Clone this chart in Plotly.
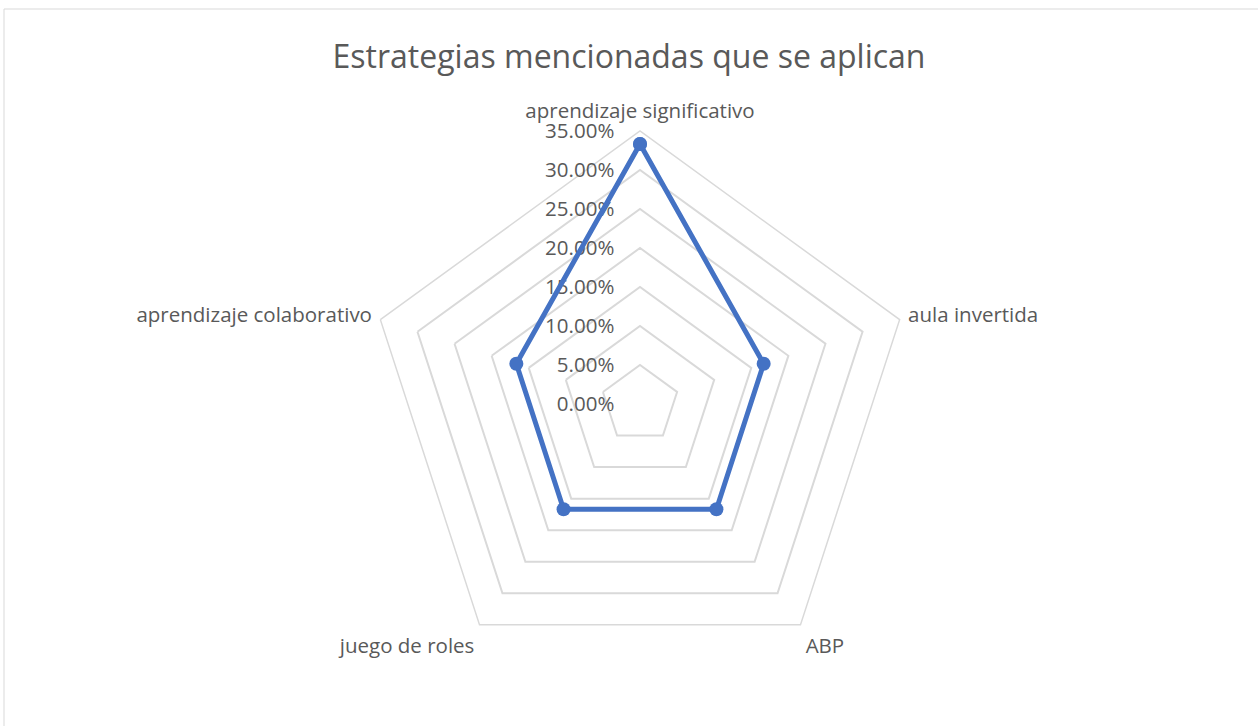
import plotly.graph_objects as go

categories = ["aprendizaje significativo", "aula invertida", "ABP", "juego de roles", "aprendizaje colaborativo"]
values = [0.3333, 0.1667, 0.1667, 0.1667, 0.1667]
radial_ticks = [0, 0.05, 0.10, 0.15, 0.20, 0.25, 0.30, 0.35]

W, H = 1258, 726
cx, cy, R = 640, 404, 273

fig = go.Figure()
fig.add_trace(go.Scatterpolar(
    r=values + values[:1],
    theta=categories + categories[:1],
    mode="lines+markers",
    line=dict(color="#4472C4", width=5),
    marker=dict(color="#4472C4", size=14),
    showlegend=False,
    hoverinfo="skip",
))

fig.update_layout(
    width=W, height=H,
    margin=dict(l=0, r=0, t=0, b=0),
    paper_bgcolor="white",
    plot_bgcolor="white",
    font=dict(family="Open Sans", color="#595959", size=20),
    title=dict(text="Estrategias mencionadas que se aplican", x=0.5, xanchor="center",
               y=1 - 57 / H, yanchor="middle", font=dict(size=32, color="#595959")),
    polar=dict(
        domain=dict(x=[(cx - R) / W, (cx + R) / W], y=[(H - cy - R) / H, (H - cy + R) / H]),
        bgcolor="white",
        gridshape="linear",
        angularaxis=dict(direction="clockwise", rotation=90, showgrid=False,
                         showline=True, linecolor="#d9d9d9", linewidth=1.5,
                         ticks="outside", ticklen=4, tickcolor="rgba(0,0,0,0)",
                         layer="below traces",
                         tickfont=dict(size=20.5, color="#595959")),
        radialaxis=dict(range=[0, 0.35], tickvals=radial_ticks, tickformat=".2%",
                        angle=90, tickangle=90, side="counterclockwise",
                        showline=False, ticks="outside", ticklen=18, tickcolor="rgba(0,0,0,0)",
                        gridcolor="#d9d9d9", gridwidth=1.5, layer="below traces",
                        tickfont=dict(size=20.5, color="#595959")),
    ),
    shapes=[dict(type="rect", xref="paper", yref="paper", x0=4 / W, x1=1.01, y0=-0.01, y1=1 - 9 / H,
                 line=dict(color="#d9d9d9", width=1), fillcolor="rgba(0,0,0,0)", layer="below")],
)

fig.write_html("out.html", config={"displayModeBar": False},
               post_script="document.body.style.margin='0';document.body.style.overflow='hidden';")
